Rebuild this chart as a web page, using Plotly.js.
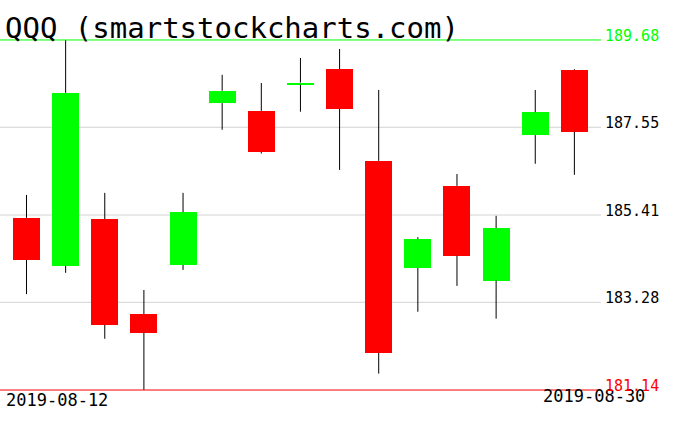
<!DOCTYPE html>
<html>
<head>
<meta charset="utf-8">
<script src="https://cdn.plot.ly/plotly-3.0.1.min.js"></script>
<style>html,body{margin:0;padding:0;background:#fff;}#chart{width:676px;height:431px;}</style>
</head>
<body>
<div id="chart"></div>
<script>
const dates = ["2019-08-12","2019-08-13","2019-08-14","2019-08-15","2019-08-16","2019-08-19","2019-08-20","2019-08-21","2019-08-22","2019-08-23","2019-08-26","2019-08-27","2019-08-28","2019-08-29","2019-08-30"];
const openV  = [185.34, 184.17, 185.31, 182.99, 184.19, 188.14, 187.95, 188.59, 188.97, 186.73, 184.12, 186.12, 183.81, 187.36, 188.95];
const highV  = [185.90, 189.68, 185.95, 183.58, 185.95, 188.83, 188.63, 189.24, 189.46, 188.46, 184.87, 186.41, 185.39, 188.46, 188.97];
const lowV   = [183.48, 184.00, 182.39, 181.14, 184.07, 187.49, 186.91, 187.93, 186.51, 181.54, 183.05, 183.68, 182.88, 186.66, 186.39];
const closeV = [184.31, 188.39, 182.73, 182.54, 185.48, 188.44, 186.95, 188.64, 188.00, 182.05, 184.82, 184.42, 185.09, 187.92, 187.44];
const levelTicks = [189.68, 187.55, 185.41, 183.28, 181.14];
const levelLabels = ["189.68", "187.55", "185.41", "183.28", "181.14"];
const title = "QQQ (smartstockcharts.com)";

const UP = "#00ff00", DOWN = "#ff0000";
const FONT = "DejaVu Sans Mono";

// wick segments (above and below body)
const wx = [], wy = [];
dates.forEach((d, i) => {
  const top = Math.max(openV[i], closeV[i]);
  const bot = Math.min(openV[i], closeV[i]);
  wx.push(d, d, null, d, d, null);
  wy.push(highV[i], top, null, bot, lowV[i], null);
});

const bodyBase = dates.map((d, i) => Math.min(openV[i], closeV[i]));
const bodyH = dates.map((d, i) => Math.max(Math.abs(closeV[i] - openV[i]), 0.05));
const bodyCol = dates.map((d, i) => closeV[i] >= openV[i] ? UP : DOWN);

const traces = [
  {type: "scatter", mode: "lines", x: wx, y: wy, line: {color: "#000", width: 1}, hoverinfo: "skip", showlegend: false, connectgaps: false},
  {type: "bar", x: dates, y: bodyH, base: bodyBase, width: 0.69, marker: {color: bodyCol, line: {width: 0}}, hoverinfo: "skip", showlegend: false}
];

const lo = levelTicks[levelTicks.length - 1], hi = levelTicks[0];
const pad = (hi - lo) * 0.0285;

const shapes = [];
levelTicks.forEach((v, i) => {
  let col = "#d3d3d3";
  if (i === 0) col = UP;
  if (i === levelTicks.length - 1) col = DOWN;
  shapes.push({type: "line", xref: "paper", x0: 0, x1: 1, yref: "y", y0: v, y1: v, line: {color: col, width: 1}, layer: (i === 0 || i === levelTicks.length - 1) ? "above" : "below"});
});

const annotations = [];
annotations.push({xref: "paper", x: 0, xanchor: "left", xshift: 4, yref: "paper", y: 0, yanchor: "middle", yshift: 0, text: dates[0], showarrow: false, font: {family: FONT, size: 17, color: "#000"}});
annotations.push({xref: "paper", x: 1, xanchor: "right", xshift: 46, yref: "paper", y: 0, yanchor: "middle", yshift: 4, text: dates[dates.length - 1], showarrow: false, font: {family: FONT, size: 17, color: "#000"}});
levelTicks.forEach((v, i) => {
  let col = "#000";
  if (i === 0) col = UP;
  if (i === levelTicks.length - 1) col = DOWN;
  annotations.push({xref: "paper", x: 1, xanchor: "left", xshift: 2, yref: "y", y: v, yanchor: "middle", yshift: 4, text: levelLabels[i], showarrow: false, font: {family: FONT, size: 15, color: col}});
});
annotations.push({xref: "paper", x: 0, xanchor: "left", xshift: 3, yref: "paper", y: 1, yanchor: "middle", yshift: 2, text: title, showarrow: false, font: {family: FONT, size: 29, color: "#000"}});

const layout = {
  width: 676, height: 431,
  margin: {l: 0, r: 75, t: 30, b: 31, pad: 0},
  paper_bgcolor: "#fff", plot_bgcolor: "#fff",
  showlegend: false,
  bargap: 0,
  xaxis: {type: "category", range: [-0.677, 14.68], showgrid: false, zeroline: false, showticklabels: false, showline: false, ticks: "", fixedrange: true},
  yaxis: {range: [lo - pad, hi + pad], showgrid: false, zeroline: false, showticklabels: false, showline: false, ticks: "", fixedrange: true},
  shapes: shapes,
  annotations: annotations
};

Plotly.newPlot("chart", traces, layout, {displayModeBar: false, staticPlot: true});
</script>
</body>
</html>
